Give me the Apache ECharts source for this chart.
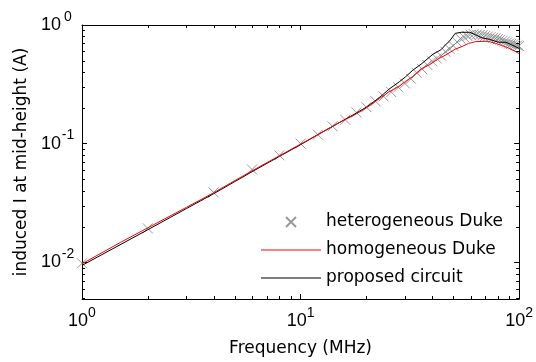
<!DOCTYPE html>
<html>
<head>
<meta charset="utf-8">
<script src="https://cdn.jsdelivr.net/npm/echarts@6/dist/echarts.min.js"></script>
<style>html,body{margin:0;padding:0;background:#fff}#c{width:536px;height:362px}</style>
</head>
<body>
<div id="c"></div>
<script>
// ---- data ----
const hetFreq = [1,2,4,6,8,10,12,14,16,18,20,22,24,26,28,30,32,34,36,38,40,42,44,46,48,50,52,54,56,58,60,62,64,66,68,70,72,74,76,78,80,82,84,86,88,90,92,94,96,98,100];
const hetI = [0.0098,0.0193,0.0388,0.0605,0.0797,0.100,0.119,0.140,0.159,0.183,0.203,0.228,0.250,0.272,0.298,0.322,0.352,0.395,0.425,0.461,0.494,0.522,0.550,0.595,0.630,0.668,0.720,0.765,0.790,0.808,0.830,0.838,0.832,0.824,0.818,0.810,0.800,0.790,0.780,0.770,0.760,0.750,0.738,0.725,0.712,0.700,0.693,0.686,0.680,0.672,0.665];

const homFreq = [1,1.5,2,3,4,6,8,10,12,15,18,20,23,25.3,28.3,30.2,32.6,35.9,38.8,42.8,46.3,51,55,58.7,63.4,67.6,70.5,74,78,84,90,95,100];
const homI = [0.0097,0.0147,0.0195,0.029,0.0385,0.059,0.079,0.099,0.119,0.150,0.178,0.200,0.240,0.272,0.305,0.334,0.368,0.430,0.461,0.520,0.560,0.625,0.660,0.700,0.724,0.727,0.730,0.720,0.700,0.670,0.637,0.605,0.575];

const propFreq = [1,2,3,4,6,8,10,12,15,18,20,23,25.4,28.3,30.2,32.6,36,40.4,44,46,48,51,54.5,59.5,63.4,67.6,73,80.4,87,92.6,100];
const propI = [0.0094,0.0188,0.0283,0.0378,0.058,0.078,0.098,0.119,0.150,0.181,0.203,0.245,0.288,0.332,0.365,0.415,0.475,0.568,0.620,0.680,0.730,0.850,0.868,0.868,0.825,0.780,0.758,0.716,0.715,0.680,0.635];

const seriesNames = ['heterogeneous Duke','homogeneous Duke','proposed circuit'];
const xName = 'Frequency (MHz)';
const yName = 'induced I at mid-height (A)';
const xRange = [1, 100];
const yRange = [0.0049, 1];
// minor tick positions (log axes)
const xMinorTicks = [2,3,4,5,6,7,8,9,20,30,40,50,60,70,80,90];
const yMinorTicks = [0.005,0.006,0.007,0.008,0.009,0.02,0.03,0.04,0.05,0.06,0.07,0.08,0.09,0.2,0.3,0.4,0.5,0.6,0.7,0.8,0.9];

// ---- chart ----
const pair = (xs, ys) => xs.map((x, i) => [x, ys[i]]);
const expLabel = (v) => {
  const e = Math.log10(v);
  if (Math.abs(e - Math.round(e)) > 1e-6) return '';
  return '{b|10}{s|' + Math.round(e) + '}';
};
const crossPath = 'path://M0,0L10,10M10,0L0,10';
const lineIcon = 'path://M0,0L60,0L60,1L0,1Z';
const tickFont = 'Liberation Sans, Arial, sans-serif';
const textFont = 'DejaVu Sans, sans-serif';

const richX = {
  b: {fontSize: 18, fontFamily: tickFont, color: '#000'},
  s: {fontSize: 14, fontFamily: tickFont, color: '#000', padding: [0,0,16,0]}
};
const richY = {
  b: {fontSize: 18, fontFamily: tickFont, color: '#000'},
  s: {fontSize: 14, fontFamily: tickFont, color: '#000', padding: [0,0,16,0], width: 14, align: 'left'}
};

function logAxis(pos, range, showLabels, rich, extra) {
  return Object.assign({
    type: 'log', logBase: 10, position: pos, min: range[0], max: range[1],
    axisLine: {show: true, onZero: false, lineStyle: {color: '#000', width: 1}},
    axisTick: {show: true, inside: true, length: 5, lineStyle: {color: '#000'}},
    minorTick: {show: false},
    splitLine: {show: false},
    axisLabel: {show: showLabels, formatter: expLabel, rich: rich, margin: 7}
  }, extra || {});
}

const MINOR_LEN = 3;
const crisp = (p) => Math.round(p) + 0.5;
function minorTickSeries(values, isX) {
  return {
    type: 'custom', silent: true, clip: false, z: 5,
    data: values.map(v => isX ? [v, yRange[1]] : [xRange[1], v]),
    renderItem: function (params, api) {
      const v = api.value(isX ? 0 : 1);
      const st = {stroke: '#000', lineWidth: 1};
      if (isX) {
        const a = api.coord([v, yRange[0]]);
        const b = api.coord([v, yRange[1]]);
        const x = crisp(a[0]);
        return {type: 'group', children: [
          {type: 'line', shape: {x1: x, y1: a[1], x2: x, y2: a[1] - MINOR_LEN}, style: st},
          {type: 'line', shape: {x1: x, y1: b[1], x2: x, y2: b[1] + MINOR_LEN}, style: st}
        ]};
      } else {
        const a = api.coord([xRange[0], v]);
        const b = api.coord([xRange[1], v]);
        const y = crisp(a[1]);
        return {type: 'group', children: [
          {type: 'line', shape: {x1: a[0], y1: y, x2: a[0] + MINOR_LEN, y2: y}, style: st},
          {type: 'line', shape: {x1: b[0], y1: y, x2: b[0] - MINOR_LEN, y2: y}, style: st}
        ]};
      }
    }
  };
}

const chart = echarts.init(document.getElementById('c'), null, {renderer: 'canvas'});
chart.setOption({
  animation: false,
  backgroundColor: '#fff',
  grid: {left: 82, right: 15, top: 25, bottom: 62, containLabel: false},
  xAxis: [
    logAxis('bottom', xRange, true, richX, {name: xName, nameLocation: 'middle', nameGap: 41,
      nameTextStyle: {fontSize: 17, fontFamily: textFont, color: '#000'}}),
    logAxis('top', xRange, false, richX)
  ],
  yAxis: [
    logAxis('left', yRange, true, richY, {name: yName, nameLocation: 'middle', nameGap: 51,
      nameTextStyle: {fontSize: 17, fontFamily: textFont, color: '#000'}}),
    logAxis('right', yRange, false, richY)
  ],
  legend: {
    orient: 'vertical', left: 256, top: 207,
    itemWidth: 60, itemHeight: 10, itemGap: 8,
    textStyle: {fontSize: 17, fontFamily: textFont, color: '#000', lineHeight: 20},
    data: [
      {name: seriesNames[0], icon: crossPath},
      {name: seriesNames[1], icon: lineIcon},
      {name: seriesNames[2], icon: lineIcon}
    ]
  },
  series: [
    {name: seriesNames[0], type: 'scatter', data: pair(hetFreq, hetI), symbol: crossPath, symbolSize: 10,
      itemStyle: {color: 'transparent', borderColor: '#808080', borderWidth: 1}},
    {name: seriesNames[2], type: 'line', data: pair(propFreq, propI), symbol: 'none', showSymbol: false,
      lineStyle: {color: '#000', width: 1}, itemStyle: {color: '#000'}},
    {name: seriesNames[1], type: 'line', data: pair(homFreq, homI), symbol: 'none', showSymbol: false,
      lineStyle: {color: '#ff0000', width: 1}, itemStyle: {color: '#ff0000'}},
    minorTickSeries(xMinorTicks, true),
    minorTickSeries(yMinorTicks, false)
  ]
});
</script>
</body>
</html>
